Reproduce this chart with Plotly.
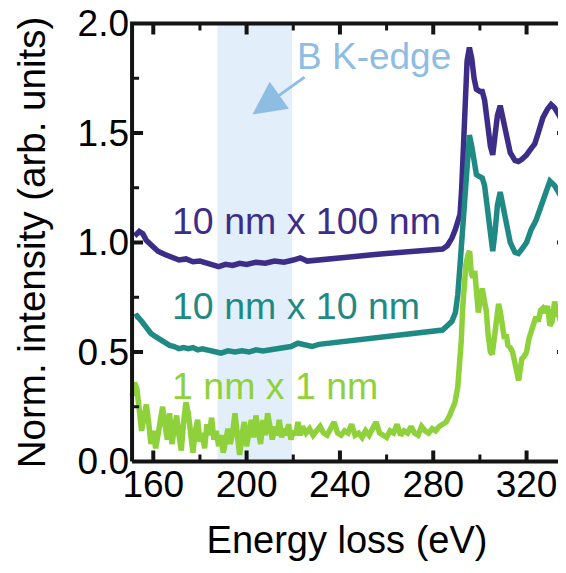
import plotly.graph_objects as go

# ---------------- data ----------------
e_purple = [152, 154, 155.5, 157, 159, 162, 165, 168, 171, 174, 177, 180, 183, 186, 188, 191, 194, 197,
            200, 204, 208, 212, 216, 220, 223, 226, 230, 235, 240, 245, 250, 255, 260, 265, 270, 275,
            280, 284, 286, 288, 289.5, 290.5, 291.5, 292.2, 292.8, 293.5, 294.5, 295.5, 296.5, 297.5,
            298.5, 300, 301, 302, 303, 304.5, 305.5, 306.5, 307.5, 308.7, 310, 311.5, 313, 315, 316.5,
            318, 320, 322, 323.5, 325, 327, 329, 330.5, 332, 334, 336.5]
i_purple = [1.03, 1.05, 1.04, 1.01, 0.99, 0.96, 0.945, 0.93, 0.92, 0.925, 0.912, 0.915, 0.905, 0.9, 0.89,
            0.9, 0.895, 0.905, 0.9, 0.91, 0.905, 0.915, 0.91, 0.92, 0.93, 0.915, 0.92, 0.925, 0.93, 0.935,
            0.94, 0.945, 0.95, 0.955, 0.958, 0.962, 0.966, 0.97, 0.985, 1.02, 1.06, 1.10, 1.13, 1.25, 1.45,
            1.68, 1.83, 1.89, 1.84, 1.75, 1.70, 1.69, 1.69, 1.65, 1.56, 1.44, 1.40, 1.48, 1.58, 1.625,
            1.56, 1.47, 1.41, 1.375, 1.37, 1.38, 1.40, 1.43, 1.45, 1.50, 1.57, 1.61, 1.63, 1.615, 1.58, 1.52]

e_teal = [152, 153, 155, 157, 159, 161, 163, 165, 167, 169, 171, 173, 175, 177, 179, 181, 184, 187, 189,
          192, 195, 198, 201, 204, 207, 210, 213, 216, 219, 222, 225, 228, 231, 235, 240, 245, 250, 255,
          260, 265, 270, 275, 280, 284, 286, 288, 289.5, 290.5, 291.5, 292.5, 293.5, 294.5, 295.5, 296.5,
          297.5, 298.5, 300, 301, 302, 303, 304.5, 305.5, 306.5, 307.5, 308.7, 310, 311.5, 313, 315,
          316.5, 318, 320, 322, 324, 326, 328, 330, 332, 334, 336.5]
i_teal = [0.66, 0.665, 0.64, 0.61, 0.585, 0.57, 0.555, 0.545, 0.53, 0.525, 0.515, 0.52, 0.515, 0.52, 0.51,
          0.515, 0.505, 0.5, 0.495, 0.505, 0.5, 0.505, 0.5, 0.51, 0.505, 0.51, 0.515, 0.52, 0.525, 0.54,
          0.53, 0.525, 0.535, 0.54, 0.545, 0.55, 0.555, 0.565, 0.57, 0.575, 0.58, 0.585, 0.59, 0.6, 0.62,
          0.64, 0.68, 0.76, 0.9, 1.06, 1.2, 1.40, 1.49, 1.44, 1.35, 1.31, 1.30, 1.295, 1.26, 1.17, 1.02,
          0.96, 1.05, 1.17, 1.23, 1.16, 1.06, 1.0, 0.955, 0.95, 0.97, 1.0, 1.06, 1.10, 1.16, 1.23, 1.28,
          1.26, 1.22, 1.18]

e_green = [151, 152, 153, 154, 155, 156, 157, 158, 159, 160, 161, 162, 163, 164, 165, 166, 167, 168, 169,
           170, 171, 172, 173, 174, 175, 176, 177, 178, 179, 180, 181, 182, 183, 184, 185, 186, 187, 188,
           189, 190, 191, 192, 193, 194, 195, 196, 197, 198, 199, 200, 201, 202, 203, 204, 205, 206, 207,
           208, 209, 210, 211, 212, 213, 214, 215, 216, 217, 218, 219, 220, 221, 222, 223, 224,
           225.5, 227, 228.5, 230, 231.5, 233, 234.5, 236, 237.5, 239, 240.5, 242, 243.5, 245, 246.5,
           248, 249.5, 251, 252.5, 254, 255.5, 257, 258.5, 260, 261.5, 263, 264.5, 266, 267.5, 269,
           270.5, 272, 273.5, 275, 276.5, 278, 279.5, 281, 282.5, 284, 285.5, 287, 288.3,
           289.3, 290.5, 291.3, 292, 292.6, 293.2, 294, 295, 295.6, 296.3, 297, 297.8, 298.5, 299.3,
           300.2, 301, 301.8, 302.7, 303.5, 304.5, 305.3, 306, 307, 308, 308.8, 309.6, 310.5, 311.3,
           312, 313, 314, 315, 316, 316.6, 317.3, 318, 319, 320, 321, 322, 323, 324, 325, 326, 327,
           328, 329, 330, 331, 332, 333, 334, 335, 336, 336.8]
i_green = [0.30, 0.36, 0.33, 0.22, 0.14, 0.20, 0.26, 0.18, 0.08, 0.14, 0.06, 0.12, 0.20, 0.25, 0.17, 0.10,
           0.22, 0.08, 0.15, 0.21, 0.12, 0.05, 0.18, 0.27, 0.22, 0.12, 0.04, 0.14, 0.19, 0.09, 0.13, 0.06,
           0.17, 0.12, 0.20, 0.10, 0.14, 0.07, 0.12, 0.04, 0.10, 0.15, 0.08, 0.13, 0.22, 0.10, 0.03, 0.12,
           0.18, 0.07, 0.13, 0.19, 0.11, 0.21, 0.14, 0.08, 0.19, 0.12, 0.22, 0.15, 0.10, 0.16, 0.12, 0.19,
           0.11, 0.15, 0.12, 0.17, 0.10, 0.14, 0.12, 0.18, 0.12, 0.16,
           0.13, 0.15, 0.12, 0.14, 0.16, 0.13, 0.12, 0.15, 0.18, 0.13, 0.12, 0.14, 0.13, 0.17, 0.12,
           0.13, 0.11, 0.14, 0.12, 0.15, 0.18, 0.13, 0.12, 0.11, 0.14, 0.13, 0.17, 0.12, 0.14, 0.13,
           0.16, 0.13, 0.12, 0.16, 0.14, 0.13, 0.15, 0.14, 0.16, 0.17, 0.18, 0.21, 0.24,
           0.27, 0.34, 0.42, 0.55, 0.70, 0.82, 0.90, 0.95, 0.96, 0.86, 0.84, 0.87, 0.76, 0.68,
           0.74, 0.79, 0.74, 0.69, 0.58, 0.50, 0.49, 0.56, 0.64, 0.72, 0.68, 0.60, 0.56, 0.58,
           0.53, 0.52, 0.50, 0.45, 0.40, 0.37, 0.42, 0.47, 0.48, 0.50, 0.56, 0.60, 0.62, 0.66, 0.64,
           0.69, 0.70, 0.68, 0.71, 0.62, 0.64, 0.73, 0.68, 0.66, 0.62, 0.60, 0.57]

series_names = ["10 nm x 100 nm", "10 nm x 10 nm", "1 nm x 1 nm"]
series_colors = ["#3d2d88", "#1f8a84", "#8fd13a"]
label_pos = [(167.0, 1.10), (167.0, 0.71), (167.0, 0.345)]

band_x = [187.5, 219.5]
edge_text = "B K-edge"
edge_text_pos = (254.5, 1.85)
arrow_tail = (225.5, 1.76)
arrow_head = (202.5, 1.585)

# axis box (frame drawn centred on these limits) and the slightly larger visible ranges
frame_x = [150.9, 337.8]
frame_y = [0.0, 2.0]
x_range = [149.16, 336.9]
y_range = [-0.016, 2.016]
x_major = [160, 200, 240, 280, 320]
x_minor = [180, 220, 260, 300]
y_major = [0.0, 0.5, 1.0, 1.5, 2.0]
y_minor = [0.25, 0.75, 1.25, 1.75]

FONT = "Liberation Sans, Arial, sans-serif"
FRAME_COLOR = "#141414"

# figure geometry (the page body adds an 8px offset)
W, H = 558, 565
ML, MR, MT, MB = 120, 0, 12, 108
PX_PER_X = (W - ML - MR) / (x_range[1] - x_range[0])
PX_PER_Y = (H - MT - MB) / (y_range[1] - y_range[0])

fig = go.Figure()

fig.add_trace(go.Scatter(x=[band_x[0], band_x[1], band_x[1], band_x[0], band_x[0]],
                         y=[frame_y[0], frame_y[0], frame_y[1], frame_y[1], frame_y[0]],
                         mode="lines", fill="toself", fillcolor="#e2effa", line=dict(width=0),
                         showlegend=False, hoverinfo="none"))

for e, i, c in [(e_purple, i_purple, series_colors[0]),
                (e_teal, i_teal, series_colors[1]),
                (e_green, i_green, series_colors[2])]:
    fig.add_trace(go.Scatter(x=e, y=i, mode="lines", line=dict(color=c, width=5.5),
                             showlegend=False, hoverinfo="none"))

# inward ticks on all four sides
def tick_segments(length_px, xs, ys):
    tx, ty = [], []
    dy = length_px / PX_PER_Y
    dx = length_px / PX_PER_X
    for v in xs:
        tx += [v, v, None, v, v, None]
        ty += [frame_y[0], frame_y[0] + dy, None, frame_y[1], frame_y[1] - dy, None]
    for v in ys:
        tx += [frame_x[0], frame_x[0] + dx, None, frame_x[1], frame_x[1] - dx, None]
        ty += [v, v, None, v, v, None]
    return tx, ty

mx, my = tick_segments(11, x_major, y_major[1:-1])
nx, ny = tick_segments(7, x_minor, y_minor)
fig.add_trace(go.Scatter(x=mx, y=my, mode="lines", line=dict(color=FRAME_COLOR, width=4),
                         showlegend=False, hoverinfo="none", connectgaps=False))
fig.add_trace(go.Scatter(x=nx, y=ny, mode="lines", line=dict(color=FRAME_COLOR, width=3),
                         showlegend=False, hoverinfo="none", connectgaps=False))

# frame
fig.add_trace(go.Scatter(x=[frame_x[0], frame_x[1], frame_x[1], frame_x[0], frame_x[0]],
                         y=[frame_y[0], frame_y[0], frame_y[1], frame_y[1], frame_y[0]],
                         mode="lines", line=dict(color=FRAME_COLOR, width=4),
                         showlegend=False, hoverinfo="none"))

for name, c, (lx, ly) in zip(series_names, series_colors, label_pos):
    fig.add_annotation(x=lx, y=ly, xref="x", yref="y", text=name, showarrow=False,
                       xanchor="left", yanchor="middle", font=dict(family=FONT, size=37.5, color=c))

fig.add_annotation(x=edge_text_pos[0], y=edge_text_pos[1], xref="x", yref="y", text=edge_text,
                   showarrow=False, xanchor="center", yanchor="middle",
                   font=dict(family=FONT, size=37, color="#8dbde2"))
fig.add_annotation(x=arrow_head[0], y=arrow_head[1], ax=arrow_tail[0], ay=arrow_tail[1],
                   xref="x", yref="y", axref="x", ayref="y", text="", showarrow=True,
                   arrowhead=2, arrowsize=2.2, arrowwidth=3, arrowcolor="#8dbde2")

fig.update_layout(
    xaxis=dict(range=x_range, tickmode="array", tickvals=x_major,
               ticktext=[str(v) for v in x_major], ticks="", showline=False,
               showgrid=False, zeroline=False,
               tickfont=dict(family=FONT, size=37, color="black"), ticklabelstandoff=-6,
               title=dict(text="Energy loss (eV)", font=dict(family=FONT, size=38, color="black"),
                          standoff=22)),
    yaxis=dict(range=y_range, tickmode="array", tickvals=y_major,
               ticktext=[f"{v:.1f}" for v in y_major], ticks="", showline=False,
               showgrid=False, zeroline=False,
               ticklabeloverflow="allow", ticklabelstandoff=-2,
               tickfont=dict(family=FONT, size=37, color="black"),
               title=dict(text="Norm. intensity (arb. units)",
                          font=dict(family=FONT, size=38.5, color="black"), standoff=20)),
    width=W, height=H, margin=dict(l=ML, r=MR, t=MT, b=MB, autoexpand=False),
    plot_bgcolor="white", paper_bgcolor="white",
)

fig.write_html("out.html")
